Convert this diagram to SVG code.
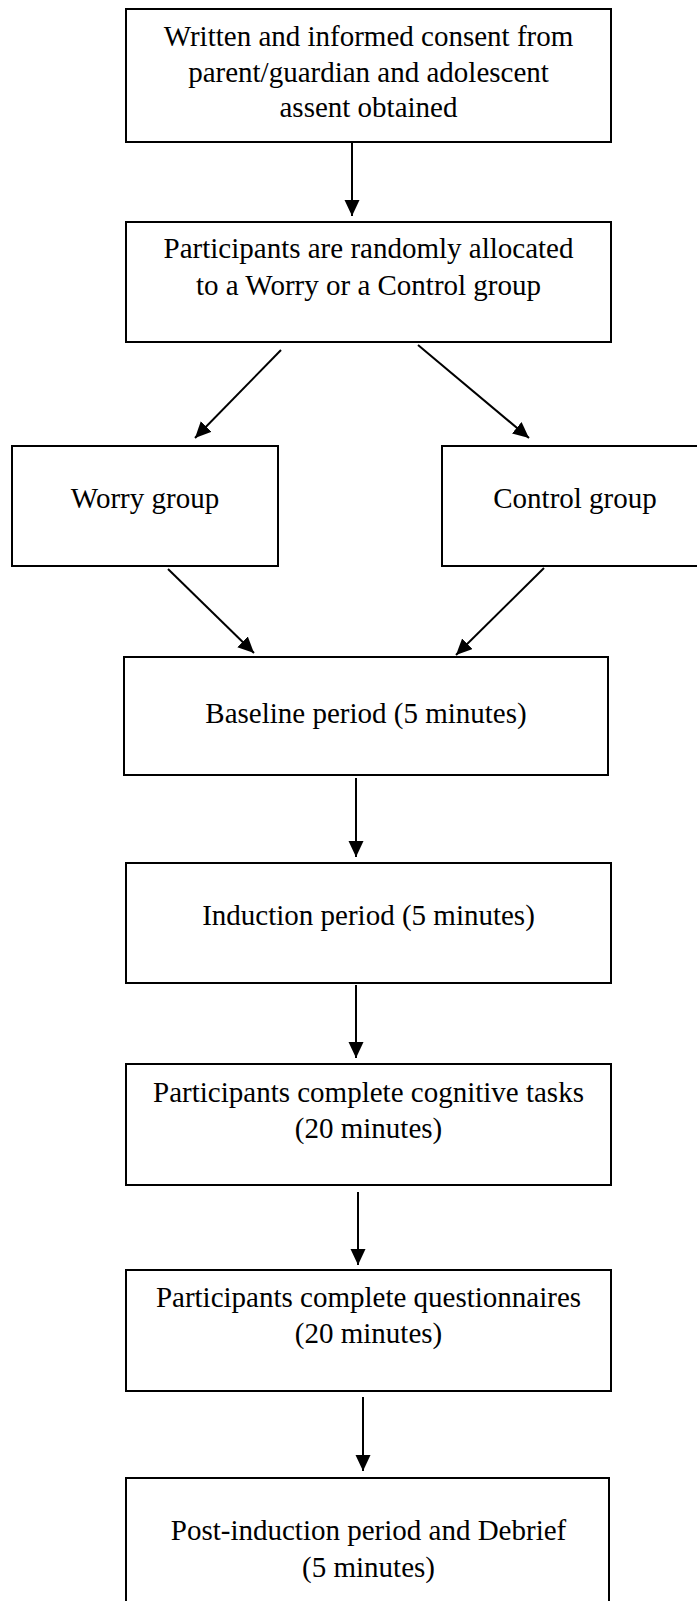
<svg xmlns="http://www.w3.org/2000/svg" width="697" height="1601" viewBox="0 0 697 1601">
<style>
.box{fill:#fff;stroke:#000;stroke-width:2}
.t{font-family:"Liberation Serif","Times New Roman",serif;font-size:29px;fill:#000;text-anchor:middle}
.c{stroke:#000;stroke-width:2;fill:none;marker-end:url(#ah)}
</style>
<defs>
<marker id="ah" markerUnits="userSpaceOnUse" markerWidth="18" markerHeight="16" refX="16" refY="7.5" orient="auto">
<path d="M0,0 L16,7.5 L0,15 Z" fill="#000"/>
</marker>
</defs>
<rect width="697" height="1601" fill="#fff"/>
<g id="n1"><rect class="box" x="126" y="9" width="485" height="133"/>
<text class="t" x="368.5" y="46">Written and informed consent from</text>
<text class="t" x="368.5" y="82">parent/guardian and adolescent</text>
<text class="t" x="368.5" y="117">assent obtained</text></g>
<g id="n2"><rect class="box" x="126" y="222" width="485" height="120"/>
<text class="t" x="368.5" y="258">Participants are randomly allocated</text>
<text class="t" x="368.5" y="295">to a Worry or a Control group</text></g>
<g id="n3"><rect class="box" x="12" y="446" width="266" height="120"/>
<text class="t" x="145" y="508">Worry group</text></g>
<g id="n4"><rect class="box" x="442" y="446" width="270" height="120"/>
<text class="t" x="575" y="508">Control group</text></g>
<g id="n5"><rect class="box" x="124" y="657" width="484" height="118"/>
<text class="t" x="366" y="723">Baseline period (5 minutes)</text></g>
<g id="n6"><rect class="box" x="126" y="863" width="485" height="120"/>
<text class="t" x="368.5" y="925">Induction period (5 minutes)</text></g>
<g id="n7"><rect class="box" x="126" y="1064" width="485" height="121"/>
<text class="t" x="368.5" y="1102">Participants complete cognitive tasks</text>
<text class="t" x="368.5" y="1138">(20 minutes)</text></g>
<g id="n8"><rect class="box" x="126" y="1270" width="485" height="121"/>
<text class="t" x="368.5" y="1307">Participants complete questionnaires</text>
<text class="t" x="368.5" y="1343">(20 minutes)</text></g>
<g id="n9"><rect class="box" x="126" y="1478" width="483" height="140"/>
<text class="t" x="368.5" y="1540">Post-induction period and Debrief</text>
<text class="t" x="368.5" y="1577">(5 minutes)</text></g>
<g id="connectors">
<line class="c" x1="352" y1="142" x2="352" y2="216"/>
<line class="c" x1="281" y1="350" x2="195" y2="438"/>
<line class="c" x1="418" y1="345" x2="529" y2="438"/>
<line class="c" x1="168" y1="569" x2="254" y2="653"/>
<line class="c" x1="544" y1="568" x2="456" y2="655"/>
<line class="c" x1="356" y1="778" x2="356" y2="857"/>
<line class="c" x1="356" y1="985" x2="356" y2="1058"/>
<line class="c" x1="358" y1="1192" x2="358" y2="1265"/>
<line class="c" x1="363" y1="1397" x2="363" y2="1471"/>
</g>
</svg>
